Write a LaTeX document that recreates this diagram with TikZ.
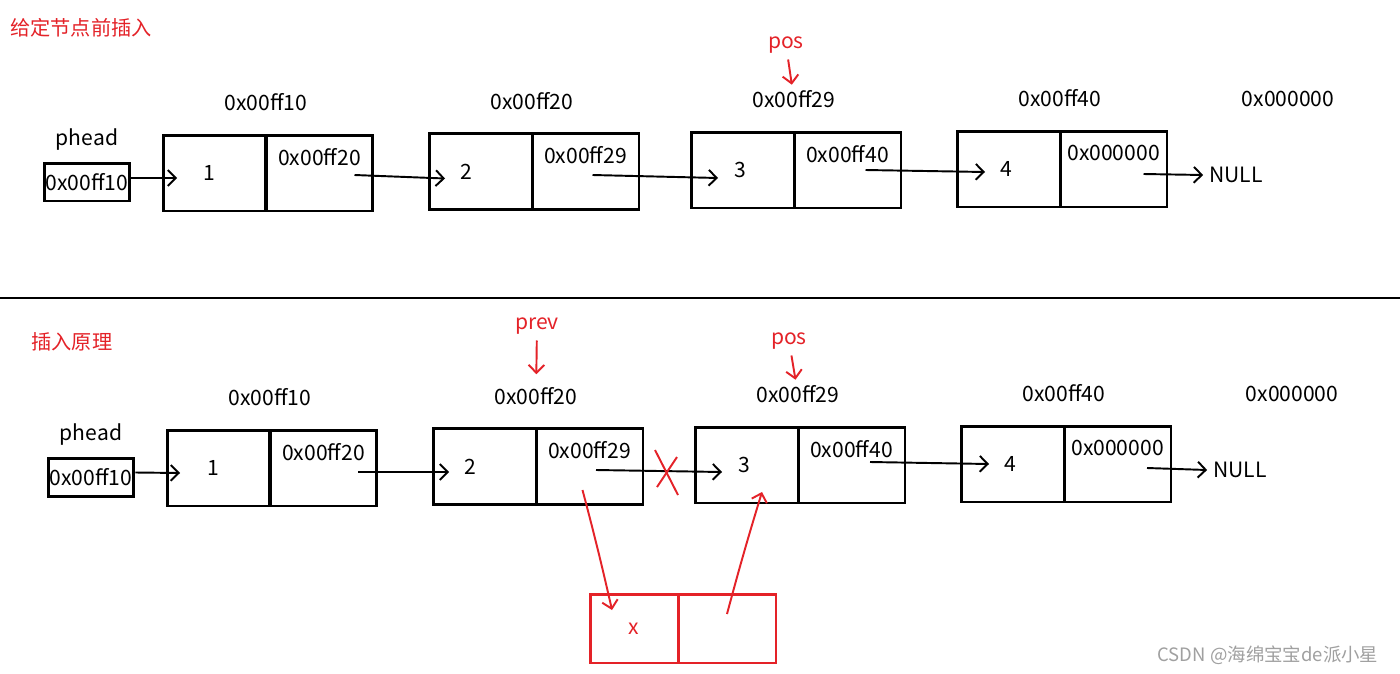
\documentclass[tikz,border=0pt]{standalone}
\usepackage{fontspec}
\setmainfont{Noto Sans CJK SC}
\usepackage{tikz}
\usetikzlibrary{arrows.meta,positioning,calc}
\definecolor{inkred}{RGB}{228,34,40}
\definecolor{markgray}{RGB}{160,160,160}

\begin{document}
\begin{tikzpicture}[x=0.02cm,y=-0.02cm,
	txt/.style={font=\fontsize{12}{14}\selectfont},
	redtxt/.style={txt,text=inkred},
	datacell/.style={draw=black,line width=1.7pt,minimum width=2.06cm,minimum height=1.52cm,outer sep=0pt,txt},
	nextcell/.style={datacell,minimum width=2.14cm},
	headbox/.style={draw=black,line width=1.7pt,inner sep=0pt,minimum width=1.72cm,minimum height=0.76cm,txt},
	redcell/.style={draw=inkred,line width=1.7pt,minimum height=1.38cm,outer sep=0pt,redtxt},
	link/.style={line width=1.1pt,-{Straight Barb[length=4.5pt,width=9pt]}},
	redlink/.style={link,draw=inkred}]
	\fill[white] (0,0) rectangle (1400,673);
	\useasboundingbox (0,0) rectangle (1400,673);

	% --- before insertion
	\node[redtxt,font=\fontsize{11.5}{14}\selectfont] (title1) at (81,28) {给定节点前插入};

	\node[headbox] (ph1) at (87,182) {0x00ff10};
	\node[txt,above=3pt of ph1] (phl1) {phead};

	\node[datacell] (d1) at (214.5,173) {};
	\node[nextcell] (n1) at (319.5,173) {};
	\node[datacell] (d2) at (480.5,171.5) {};
	\node[nextcell] (n2) at (585.5,171.5) {};
	\node[datacell] (d3) at (742.5,170) {};
	\node[nextcell] (n3) at (847.5,170) {};
	\node[datacell] (d4) at (1008.5,169) {};
	\node[nextcell] (n4) at (1113.5,169) {};

	\node[txt] (u1) at ([xshift=-3pt]d1.center) {1};
	\node[txt] (u2) at ([xshift=-8pt]d2.center) {2};
	\node[txt] (u3) at ([xshift=-1pt]d3.center) {3};
	\node[txt] (u4) at ([xshift=-1pt]d4.center) {4};

	\node[txt] (v1) at ([yshift=-12.5pt]n1.north) {0x00ff20};
	\node[txt] (v2) at ([yshift=-12.5pt]n2.north) {0x00ff29};
	\node[txt] (v3) at ([yshift=-12.5pt]n3.north) {0x00ff40};
	\node[txt] (v4) at ([yshift=-12.5pt]n4.north) {0x000000};

	\node[txt,above=10pt of n1.north west] (a1) {0x00ff10};
	\node[txt,above=10pt of n2.north west] (a2) {0x00ff20};
	\node[txt,above=10pt of n3.north west] (a3) {0x00ff29};
	\node[txt,above=10pt of n4.north west] (a4) {0x00ff40};
	\node[txt] (a5) at (1288,99) {0x000000};
	\node[txt] (null1) at (1236,175) {NULL};

	\node[redtxt] (pos1) at (786,45) {pos};
	\draw[redlink] (pos1) -- (a3);

	\draw[link] ($(ph1.east)+(0,-4)$) -- ($(d1.west)+(14,5)$);
	\draw[link] ($(n1.center)+(35,2)$) -- ($(d2.west)+(16,7)$);
	\draw[link] ($(n2.center)+(7,3.5)$) -- ($(d3.west)+(27,8)$);
	\draw[link] ($(n3.center)+(18,0)$) -- ($(d4.west)+(28,3)$);
	\draw[link] ($(n4.center)+(30,5)$) -- (null1.west);

	\draw[line width=1.7pt] (0,298) -- (1400,298);

	% --- insertion
	\node[redtxt,font=\fontsize{11.5}{14}\selectfont] (title2) at (72,342) {插入原理};

	\node[headbox] (ph2) at (91,477.5) {0x00ff10};
	\node[txt,above=3pt of ph2] (phl2) {phead};

	\node[datacell] (e1) at (218.5,468) {};
	\node[nextcell] (m1) at (323.5,468) {};
	\node[datacell] (e2) at (484.5,466.5) {};
	\node[nextcell] (m2) at (589.5,466.5) {};
	\node[datacell] (e3) at (746.5,465) {};
	\node[nextcell] (m3) at (851.5,465) {};
	\node[datacell] (e4) at (1012.5,464) {};
	\node[nextcell] (m4) at (1117.5,464) {};

	\node[txt] (t1) at ([xshift=-3pt]e1.center) {1};
	\node[txt] (t2) at ([xshift=-8pt]e2.center) {2};
	\node[txt] (t3) at ([xshift=-1pt]e3.center) {3};
	\node[txt] (t4) at ([xshift=-1pt]e4.center) {4};

	\node[txt] (w1) at ([yshift=-12.5pt]m1.north) {0x00ff20};
	\node[txt] (w2) at ([yshift=-12.5pt]m2.north) {0x00ff29};
	\node[txt] (w3) at ([yshift=-12.5pt]m3.north) {0x00ff40};
	\node[txt] (w4) at ([yshift=-12.5pt]m4.north) {0x000000};

	\node[txt,above=10pt of m1.north west] (b1) {0x00ff10};
	\node[txt,above=10pt of m2.north west] (b2) {0x00ff20};
	\node[txt,above=10pt of m3.north west] (b3) {0x00ff29};
	\node[txt,above=10pt of m4.north west] (b4) {0x00ff40};
	\node[txt] (b5) at (1292,394) {0x000000};
	\node[txt] (null2) at (1240,470) {NULL};

	\node[redtxt] (prev2) at (537,326) {prev};
	\draw[redlink,shorten >=4pt] (prev2) -- (b2);
	\node[redtxt] (pos2) at (789,341) {pos};
	\draw[redlink] (pos2) -- (b3);

	\draw[link] ($(ph2.east)+(0,-5)$) -- ($(e1.west)+(13,5)$);
	\draw[link] ($(m1.center)+(34.5,4)$) -- ($(e2.west)+(16,5.5)$);
	\draw[link] ($(m2.center)+(6.5,3.5)$) -- ($(e3.west)+(27,7)$);
	\draw[link] ($(m3.center)+(18.5,-3)$) -- ($(e4.west)+(28,0)$);
	\draw[link] ($(m4.center)+(29.5,4)$) -- (null2.west);

	% cut link
	\coordinate (cut) at (666,472);
	\draw[inkred,line width=1.1pt] ($(cut)+(-11,-22)$) -- ($(cut)+(12,23)$);
	\draw[inkred,line width=1.1pt] ($(cut)+(11,-15)$) -- ($(cut)+(-9,15)$);

	% new node
	\node[redcell,minimum width=1.76cm] (xd) at (634,628.5) {x};
	\node[redcell,minimum width=1.96cm] (xn) at (727,628.5) {};
	\draw[redlink] ($(m2.center)+(-7,23.5)$) to[bend left=1] ($(xd.north west)+(22,16)$);
	\draw[redlink] ($(xn.center)+(0,-14.5)$) to[bend left=1] ($(e3.south)+(15.5,-11)$);

	\node[text=markgray,font=\fontsize{10.5}{12}\selectfont] (mark) at (1268,655) {CSDN @海绵宝宝de派小星};
\end{tikzpicture}
\end{document}
